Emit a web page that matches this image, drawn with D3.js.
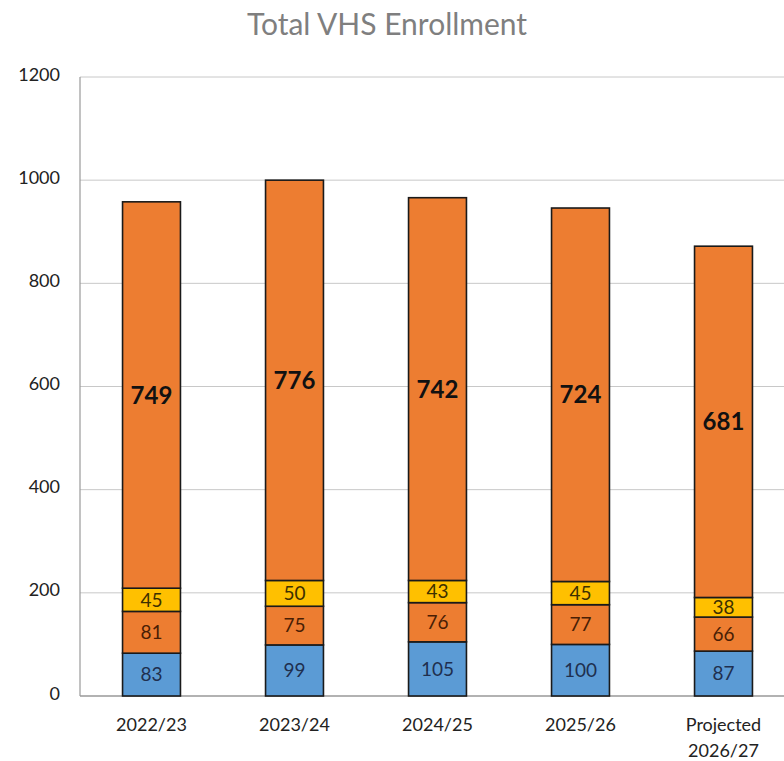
<!doctype html>
<html lang="en">
<head>
<meta charset="utf-8">
<title>Total VHS Enrollment</title>
<style>
  body { margin: 0; background: #fff; }
  svg { font-family: Lato, "Open Sans", sans-serif; }
</style>
<script src="https://d3js.org/d3.v7.min.js"></script>
</head>
<body>
<div id="chart"></div>
<script>
// chart values
var years = ["2022/23", "2023/24", "2024/25", "2025/26", "Projected 2026/27"];
var partA = [83, 99, 105, 100, 87];    // blue, bottom
var partB = [81, 75, 76, 77, 66];      // orange
var partC = [45, 50, 43, 45, 38];      // yellow
var partD = [749, 776, 742, 724, 681]; // big orange, top
var yTicks = [0, 200, 400, 600, 800, 1000, 1200];

var seriesKeys = ["a", "b", "c", "d"];
var fills = { a: "#5b9bd5", b: "#ed7d31", c: "#ffc000", d: "#ed7d31" };
var labelColor = { a: "#1f2f4f", b: "#4a1e05", c: "#3d3000", d: "#111" };

var W = 784, H = 761;
var margin = { top: 77, left: 80, bottom: 65 };
var plotW = 715, plotH = H - margin.top - margin.bottom;

var rows = years.map(function(y, i) {
  return { year: y, a: partA[i], b: partB[i], c: partC[i], d: partD[i] };
});
var stacked = d3.stack().keys(seriesKeys)(rows);

var svg = d3.select("#chart").append("svg")
  .attr("width", W).attr("height", H);

svg.append("text")
  .attr("x", 387).attr("y", 35)
  .attr("text-anchor", "middle")
  .style("font-size", "30px")
  .style("fill", "#7f7f7f")
  .text("Total VHS Enrollment");

var x = d3.scaleBand().domain(years).range([0, plotW]).paddingInner(0.595).paddingOuter(0.2975);
var y = d3.scaleLinear().domain([0, 1200]).range([plotH, 0]);

var main = svg.append("g").attr("transform", "translate(" + margin.left + "," + margin.top + ")");

// gridlines
main.selectAll(".grid").data(yTicks).enter().append("line")
  .attr("x1", 0).attr("x2", plotW)
  .attr("y1", function(d) { return y(d); }).attr("y2", function(d) { return y(d); })
  .attr("stroke", function(d) { return d == 0 ? "#999" : "#c8c8c8"; })
  .attr("stroke-width", function(d) { return d == 0 ? 1.5 : 1; });

main.append("line").attr("x1", 0).attr("x2", 0).attr("y1", 0).attr("y2", plotH)
  .attr("stroke", "#999").attr("stroke-width", 1.2);

// y tick labels
main.selectAll(".ytick").data(yTicks).enter().append("text")
  .attr("x", -20).attr("y", function(d) { return y(d); })
  .attr("dy", "0.2em")
  .attr("text-anchor", "end")
  .style("font-size", "18px").style("fill", "#222")
  .text(function(d) { return d; });

// bars
var layers = main.selectAll(".layer").data(stacked).enter().append("g");
layers.selectAll("rect").data(function(s) { return s.map(function(p) { p.key = s.key; return p; }); })
  .enter().append("rect")
  .attr("x", function(p) { return x(p.data.year); })
  .attr("width", x.bandwidth())
  .attr("y", function(p) { return y(p[1]); })
  .attr("height", function(p) { return y(p[0]) - y(p[1]); })
  .attr("fill", function(p) { return fills[p.key]; })
  .attr("stroke", "#1a1a1a").attr("stroke-width", 1.6);

layers.selectAll("text").data(function(s) { return s.map(function(p) { p.key = s.key; return p; }); })
  .enter().append("text")
  .attr("x", function(p) { return x(p.data.year) + x.bandwidth() / 2; })
  .attr("y", function(p) { return y((p[0] + p[1]) / 2); })
  .attr("dy", "0.36em")
  .attr("text-anchor", "middle")
  .style("font-size", function(p) { return p.key == "d" ? "24px" : "19px"; })
  .style("font-weight", function(p) { return p.key == "d" ? "bold" : "normal"; })
  .style("fill", function(p) { return labelColor[p.key]; })
  .text(function(p) { return p[1] - p[0]; });

// category labels
var cat = main.selectAll(".cat").data(years).enter().append("text")
  .attr("x", function(d) { return x(d) + x.bandwidth() / 2; })
  .attr("y", plotH + 35)
  .attr("text-anchor", "middle")
  .style("font-size", "18px").style("fill", "#222");
cat.each(function(d) {
  var t = d3.select(this);
  var parts = d.indexOf("Projected") == 0 ? ["Projected", d.replace("Projected ", "")] : [d];
  parts.forEach(function(p, i) {
    t.append("tspan").attr("x", t.attr("x")).attr("dy", i == 0 ? 0 : "1.45em").text(p);
  });
});
</script>
</body>
</html>
